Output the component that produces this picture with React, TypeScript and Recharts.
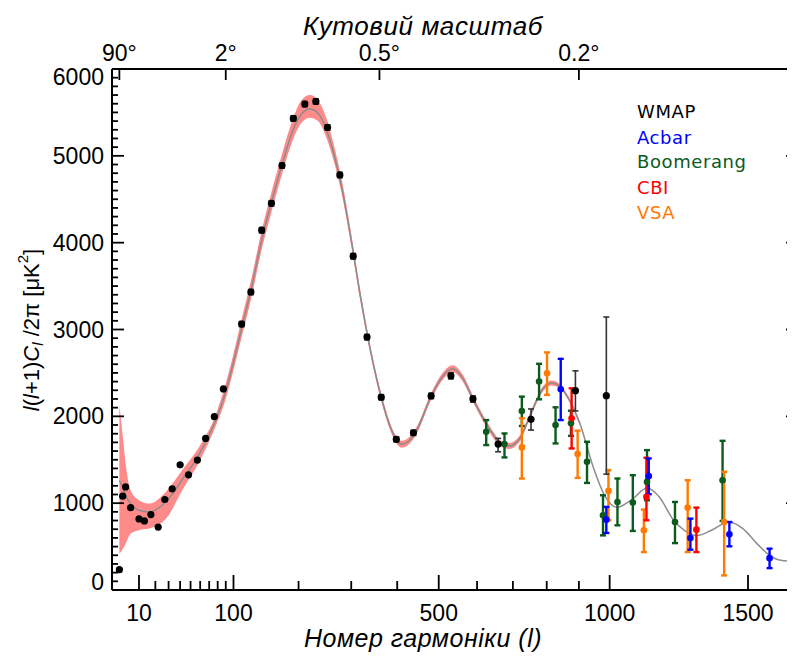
import React from "react";
import {
  ComposedChart,
  Area,
  Line,
  Scatter,
  ErrorBar,
  XAxis,
  YAxis,
} from "recharts";

// the l axis of the original is drawn on an l^0.6 scale
const POW = 0.6;
const toT = (l: number) => Math.pow(l, POW);
const T_MIN = 0.59;
const T_MAX = 86.5;

const FONT = "'Liberation Sans', Arial, sans-serif";

// best-fit model curve
const modelL = [2, 3, 4, 6, 10, 16, 29, 42, 59, 79, 90, 100, 111, 124, 140, 155, 172, 190, 205, 220, 235, 250, 265, 280, 300, 320, 340, 364, 384, 400, 410, 425, 445, 481, 510, 536, 560, 590, 636, 665, 690, 720, 750, 785, 815, 840, 862, 903, 946, 985, 1024, 1075, 1127, 1170, 1221, 1260, 1307, 1360, 1426, 1480, 1535, 1585, 1630, 1665, 1690];
const modelD = [1261, 1184, 1092, 995, 918, 899, 1034, 1271, 1565, 1988, 2287, 2626, 3014, 3449, 4030, 4465, 4901, 5288, 5482, 5540, 5491, 5317, 5027, 4659, 4030, 3352, 2772, 2220, 1881, 1716, 1678, 1707, 1833, 2229, 2462, 2549, 2452, 2191, 1842, 1687, 1658, 1745, 2007, 2297, 2384, 2346, 2239, 1920, 1416, 1078, 952, 1042, 1174, 1072, 803, 688, 629, 688, 783, 707, 534, 400, 342, 334, 347];
// pink uncertainty band (only drawn up to l = 903)
const bandLo = [418, 470, 534, 649, 688, 707, 840, 1149, 1476, 1920, 2200, 2530, 2910, 3340, 3920, 4350, 4790, 5180, 5380, 5440, 5400, 5220, 4940, 4580, 3960, 3290, 2720, 2175, 1840, 1675, 1638, 1667, 1793, 2189, 2422, 2509, 2412, 2153, 1806, 1652, 1624, 1712, 1975, 2267, 2356, 2320, 2215, 1900];
const bandHi = [2131, 1780, 1458, 1149, 1034, 995, 1149, 1381, 1650, 2053, 2380, 2720, 3120, 3560, 4140, 4580, 5020, 5420, 5640, 5700, 5640, 5450, 5130, 4750, 4100, 3410, 2820, 2265, 1920, 1755, 1718, 1747, 1873, 2269, 2502, 2589, 2492, 2229, 1878, 1722, 1692, 1778, 2039, 2327, 2412, 2372, 2263, 1940];

// WMAP
const wmapL = [2, 3, 4, 6, 10, 13, 17, 22, 27, 33, 40, 48, 57, 66, 76, 87, 111, 124, 140, 155, 172, 191, 211, 231, 253, 277, 304, 333, 364, 398, 438, 481, 531, 589, 658, 753, 889, 989];
const wmapD = [234, 1080, 1187, 949, 818, 795, 869, 725, 1042, 1165, 1442, 1326, 1496, 1746, 1996, 2316, 3063, 3432, 4144, 4453, 4888, 5431, 5596, 5627, 5327, 4780, 3844, 2913, 2220, 1735, 1811, 2235, 2466, 2200, 1681, 1966, 2296, 2238];
const wmapErrLo = [0, 0, 0, 0, 0, 0, 0, 0, 0, 0, 0, 0, 0, 0, 0, 0, 30, 30, 30, 30, 30, 30, 30, 30, 30, 30, 30, 30, 30, 30, 30, 30, 35, 35, 89, 124, 234, 904];
const wmapErrHi = [0, 0, 0, 0, 0, 0, 0, 0, 0, 0, 0, 0, 0, 0, 0, 0, 30, 30, 30, 30, 30, 30, 30, 30, 30, 30, 30, 30, 30, 30, 30, 30, 35, 35, 65, 119, 228, 906];

// Boomerang
const boomL = [625, 676, 726, 777, 827, 875, 926, 978, 1026, 1078, 1127, 1226, 1402];
const boomD = [1823, 1681, 2062, 2401, 1900, 1920, 1476, 861, 1014, 1007, 1245, 783, 1264];
const boomTop = [1957, 1803, 2227, 2605, 2104, 2065, 1707, 1091, 1284, 1322, 1611, 1014, 1718];
const boomBot = [1669, 1527, 1889, 2196, 1688, 1775, 1233, 629, 745, 680, 1033, 540, 795];

// Acbar
const acbarL = [843, 989, 1133, 1282, 1428, 1585];
const acbarD = [2312, 810, 1311, 599, 641, 367];
const acbarTop = [2662, 957, 1515, 822, 783, 476];
const acbarBot = [1957, 657, 1103, 464, 503, 252];

// CBI
const cbiL = [877, 1125, 1304];
const cbiD = [1978, 1072, 695];
const cbiTop = [2323, 1523, 949];
const cbiBot = [1630, 803, 437];

// VSA
const vsaL = [726, 801, 896, 996, 1116, 1272, 1408];
const vsaD = [1642, 2497, 1565, 1141, 688, 949, 783];
const vsaTop = [1978, 2736, 1835, 1381, 927, 1264, 1361];
const vsaBot = [1284, 2247, 1291, 803, 437, 437, 168];

const xMajorL = [10, 100, 500, 1000, 1500];
const xMinorL = [20, 30, 40, 50, 60, 70, 80, 90, 200, 300, 400, 600, 700, 800, 900];
const angleL = [2, 90, 360, 900];
const angleLabels = ["90°", "2°", "0.5°", "0.2°"];

const legendNames = ["WMAP", "Acbar", "Boomerang", "CBI", "VSA"];
const legendColors = ["#000000", "#0000ff", "#0b5a1e", "#ff0000", "#ff7a00"];

const modelRows = modelL.map((l, i) => ({
  t: toT(l),
  D: modelD[i],
  band: i < bandLo.length ? [bandLo[i], bandHi[i]] : null,
}));

const mkRows = (ls: number[], ds: number[], tops: number[], bots: number[]) =>
  ls.map((l, i) => ({ t: toT(l), D: ds[i], err: [ds[i] - bots[i], tops[i] - ds[i]] }));

const wmapRows = wmapL.map((l, i) => ({
  t: toT(l),
  D: wmapD[i],
  err: [wmapErrLo[i], wmapErrHi[i]],
}));
const boomRows = mkRows(boomL, boomD, boomTop, boomBot);
const acbarRows = mkRows(acbarL, acbarD, acbarTop, acbarBot);
const cbiRows = mkRows(cbiL, cbiD, cbiTop, cbiBot);
const vsaRows = mkRows(vsaL, vsaD, vsaTop, vsaBot);

const bottomTicks = [...xMajorL, ...xMinorL].map(toT).sort((a, b) => a - b);
const topTicks = angleL.map(toT);
const yTicks: number[] = [];
for (let v = 0; v <= 6000; v += 100) yTicks.push(v);

const near = (a: number, b: number) => Math.abs(a - b) < 1e-6;

function BottomTick({ x, y, payload }: any) {
  const major = xMajorL.find((l) => near(toT(l), payload.value));
  return (
    <g>
      <line x1={x} x2={x} y1={y} y2={y - (major ? 15 : 9)} stroke="#000" strokeWidth={1.8} />
      {major !== undefined && (
        <text x={x} y={y + 31} textAnchor="middle" fontSize={23} fontFamily={FONT} fill="#000">
          {major}
        </text>
      )}
    </g>
  );
}

function TopTick({ x, y, payload }: any) {
  const idx = angleL.findIndex((l) => near(toT(l), payload.value));
  return (
    <g>
      <line x1={x} x2={x} y1={y} y2={y + 11} stroke="#000" strokeWidth={1.8} />
      <text x={x} y={y - 8} textAnchor="middle" fontSize={23} fontFamily={FONT} fill="#000">
        {angleLabels[idx]}
      </text>
    </g>
  );
}

function LeftTick({ x, y, payload }: any) {
  const v = payload.value;
  const major = v % 1000 === 0;
  // the end labels sit a little inside the frame, as in the original
  const nudge = v === 0 ? -8 : v === 6000 ? 8 : 0;
  return (
    <g>
      <line x1={x} x2={x + (major ? 12 : 6)} y1={y} y2={y} stroke="#000" strokeWidth={1.8} />
      {major && (
        <text x={x - 8} y={y + 8 + nudge} textAnchor="end" fontSize={23} fontFamily={FONT} fill="#000">
          {v}
        </text>
      )}
    </g>
  );
}

function RightTick({ x, y, payload }: any) {
  const major = payload.value % 1000 === 0;
  return <line x1={x} x2={x - (major ? 10 : 5)} y1={y} y2={y} stroke="#000" strokeWidth={1.8} />;
}

const dot = (color: string, r = 3.3) => (p: any) => <circle cx={p.cx} cy={p.cy} r={r} fill={color} />;

export default function App() {
  const axisLine = { stroke: "#000", strokeWidth: 2 };
  return (
    <div style={{ position: "relative", width: 787, height: 649, overflow: "hidden" }}>
      <ComposedChart
        width={795}
        height={648}
        data={modelRows}
        margin={{ top: 0, right: 6, bottom: 0, left: 0 }}
      >
        <XAxis
          xAxisId="b"
          type="number"
          dataKey="t"
          domain={[T_MIN, T_MAX]}
          allowDataOverflow
          ticks={bottomTicks}
          interval={0}
          height={66}
          tickSize={0}
          tickMargin={0}
          tickLine={false}
          axisLine={axisLine}
          tick={(p: any) => <BottomTick {...p} />}
        />
        <XAxis
          xAxisId="top"
          orientation="top"
          type="number"
          dataKey="t"
          domain={[T_MIN, T_MAX]}
          allowDataOverflow
          ticks={topTicks}
          interval={0}
          height={61}
          tickSize={0}
          tickMargin={0}
          tickLine={false}
          axisLine={axisLine}
          tick={(p: any) => <TopTick {...p} />}
        />
        <YAxis
          yAxisId="l"
          type="number"
          domain={[0, 6000]}
          allowDataOverflow
          ticks={yTicks}
          interval={0}
          width={104}
          tickSize={0}
          tickMargin={0}
          tickLine={false}
          axisLine={axisLine}
          tick={(p: any) => <LeftTick {...p} />}
        />
        <YAxis
          yAxisId="r"
          orientation="right"
          type="number"
          domain={[0, 6000]}
          allowDataOverflow
          ticks={yTicks}
          interval={0}
          width={1}
          tickSize={0}
          tickMargin={0}
          tickLine={false}
          axisLine={axisLine}
          tick={(p: any) => <RightTick {...p} />}
        />

        <Area
          xAxisId="b"
          yAxisId="l"
          type="monotone"
          dataKey="band"
          fill="#ff8a8a"
          fillOpacity={1}
          stroke="none"
          isAnimationActive={false}
        />
        <Line
          xAxisId="b"
          yAxisId="l"
          type="monotone"
          dataKey="D"
          stroke="#8c8c8c"
          strokeWidth={1.5}
          dot={false}
          isAnimationActive={false}
        />

        <Scatter xAxisId="b" yAxisId="l" name="Boomerang" data={boomRows} dataKey="D" shape={dot(legendColors[2])} isAnimationActive={false}>
          <ErrorBar dataKey="err" direction="y" width={3} strokeWidth={2.4} stroke={legendColors[2]} />
        </Scatter>
        <Scatter xAxisId="b" yAxisId="l" name="VSA" data={vsaRows} dataKey="D" shape={dot(legendColors[4])} isAnimationActive={false}>
          <ErrorBar dataKey="err" direction="y" width={3} strokeWidth={2.4} stroke={legendColors[4]} />
        </Scatter>
        <Scatter xAxisId="b" yAxisId="l" name="CBI" data={cbiRows} dataKey="D" shape={dot(legendColors[3])} isAnimationActive={false}>
          <ErrorBar dataKey="err" direction="y" width={3} strokeWidth={2.4} stroke={legendColors[3]} />
        </Scatter>
        <Scatter xAxisId="b" yAxisId="l" name="Acbar" data={acbarRows} dataKey="D" shape={dot(legendColors[1])} isAnimationActive={false}>
          <ErrorBar dataKey="err" direction="y" width={3} strokeWidth={2.4} stroke={legendColors[1]} />
        </Scatter>
        <Scatter xAxisId="b" yAxisId="l" name="WMAP" data={wmapRows} dataKey="D" shape={dot(legendColors[0], 3.6)} isAnimationActive={false}>
          <ErrorBar dataKey="err" direction="y" width={3} strokeWidth={1.6} stroke="#333" />
        </Scatter>
      </ComposedChart>

      <svg
        width={787}
        height={649}
        style={{ position: "absolute", left: 0, top: 0, pointerEvents: "none" }}
      >
        <text x={415} y={27} textAnchor="middle" fontSize={26} fontStyle="italic" fontFamily={FONT} letterSpacing={0.6}>
          Кутовий масштаб
        </text>
        <text x={415} y={639} textAnchor="middle" fontSize={25} fontStyle="italic" fontFamily={FONT} letterSpacing={0.5}>
          Номер гармоніки (l)
        </text>
        <text
          transform="translate(23,322) rotate(-90)"
          textAnchor="middle"
          dominantBaseline="central"
          fontSize={22}
          fontFamily={FONT}
        >
          <tspan fontStyle="italic">l</tspan>(<tspan fontStyle="italic">l</tspan>+1)
          <tspan fontStyle="italic">C</tspan>
          <tspan fontSize={15} dy={6} fontStyle="italic">l</tspan>
          <tspan dy={-6}> /2π [μK</tspan>
          <tspan fontSize={15} dy={-9}>2</tspan>
          <tspan dy={9}>]</tspan>
        </text>
        {legendNames.map((name, i) => (
          <text
            key={name}
            x={629}
            y={[109.5, 135.5, 160, 186, 211][i]}
            fontSize={18}
            fontFamily="'DejaVu Sans', sans-serif"
            fill={legendColors[i]}
            letterSpacing={0.6}
          >
            {name}
          </text>
        ))}
      </svg>
    </div>
  );
}
